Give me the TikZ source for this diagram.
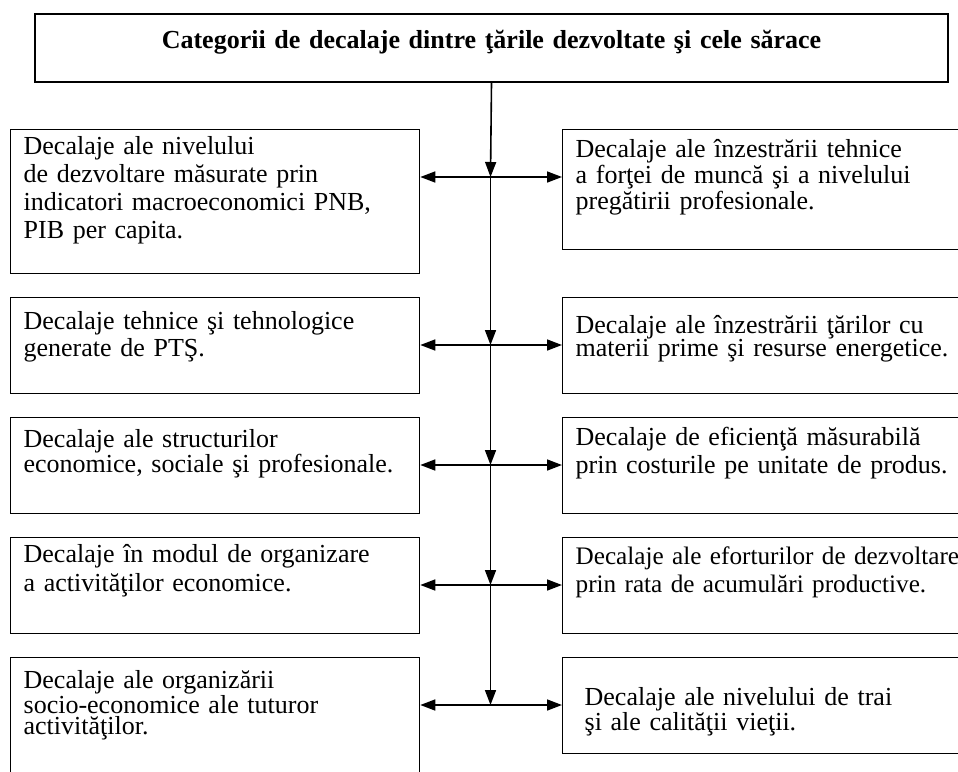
\documentclass[tikz,border=0pt]{standalone}
\usepackage{fontspec}
\setmainfont{Liberation Serif}
\usetikzlibrary{arrows.meta}
\setlength{\lineskiplimit}{-\maxdimen}

\tikzset{
  cutie/.style={draw, line width=1.3pt, anchor=north west, inner xsep=13pt, inner ysep=0pt, align=left},
  stanga/.style={cutie, text width=383pt},
  dreapta/.style={cutie, text width=500pt},
  interlinie/.style={font=\fontsize{26}{#1}\selectfont},
  varf/.tip={Triangle[length=15pt, width=11pt]},
  sageata/.style={line width=1.6pt, -varf},
}

\begin{document}
\begin{tikzpicture}[x=1pt, y=-1pt]
    % pagina
    \useasboundingbox (0,0) rectangle (958,771);
    \clip (0,0) rectangle (958,771);

    % titlul
    \node[draw, line width=2pt, anchor=north west, inner sep=0pt, text width=913pt, align=center,
          font=\bfseries\fontsize{26}{30}\selectfont, text height=34pt, text depth=34pt] (top) at (34,13)
        {Categorii de decalaje dintre ţările dezvoltate şi cele sărace};

    % coloana stanga
    \node[stanga, interlinie=28, text height=25pt, text depth=119pt] (l1) at (10,129)
        {Decalaje ale nivelului\\de dezvoltare măsurate prin\\indicatori macroeconomici PNB,\\PIB per capita.};
    \node[stanga, interlinie=27, text height=32pt, text depth=64pt] (l2) at (10,297)
        {Decalaje tehnice şi tehnologice\\generate de PTŞ.};
    \node[stanga, interlinie=21, text height=30pt, text depth=66pt] (l3) at (10,417)
        {Decalaje ale structurilor\\economice, sociale şi profesionale.};
    \node[stanga, interlinie=29, text height=25pt, text depth=71pt] (l4) at (10,537)
        {Decalaje în modul de organizare\\a activităţilor economice.};
    \node[stanga, interlinie=21, text height=31pt, text depth=113pt] (l5) at (10,657)
        {Decalaje ale organizării\\socio-economice ale tuturor\\activităţilor.};

    % coloana dreapta
    \node[dreapta, interlinie=26, text height=28pt, text depth=92pt] (r1) at (562,129)
        {Decalaje ale înzestrării tehnice\\a forţei de muncă şi a nivelului\\pregătirii profesionale.};
    \node[dreapta, interlinie=23, text height=36pt, text depth=60pt] (r2) at (562,297)
        {Decalaje ale înzestrării ţărilor cu\\materii prime şi resurse energetice.};
    \node[dreapta, interlinie=28, text height=28pt, text depth=68pt] (r3) at (562,417)
        {Decalaje de eficienţă măsurabilă\\prin costurile pe unitate de produs.};
    \node[dreapta, font=\fontsize{25.2}{28}\selectfont, text height=27pt, text depth=69pt] (r4) at (562,537)
        {Decalaje ale eforturilor de dezvoltare\\prin rata de acumulări productive.};
    \node[dreapta, interlinie=22, inner xsep=22pt, text width=491pt, text height=48pt, text depth=48pt] (r5) at (562,657)
        {Decalaje ale nivelului de trai\\şi ale calităţii vieţii.};

    % axa verticala si ramificatiile
    \foreach \y [count=\i] in {177,345,465,585,705}
        \coordinate (j\i) at (490.5,\y);
    \draw[sageata] (top.south) -- (j1);
    \foreach \a/\b in {1/2, 2/3, 3/4, 4/5}
        \draw[sageata] (j\a) -- (j\b);
    \foreach \i in {1,...,5}
        \draw[line width=1.6pt, varf-varf] (j\i -| l\i.east) -- (j\i -| r\i.west);
\end{tikzpicture}
\end{document}
